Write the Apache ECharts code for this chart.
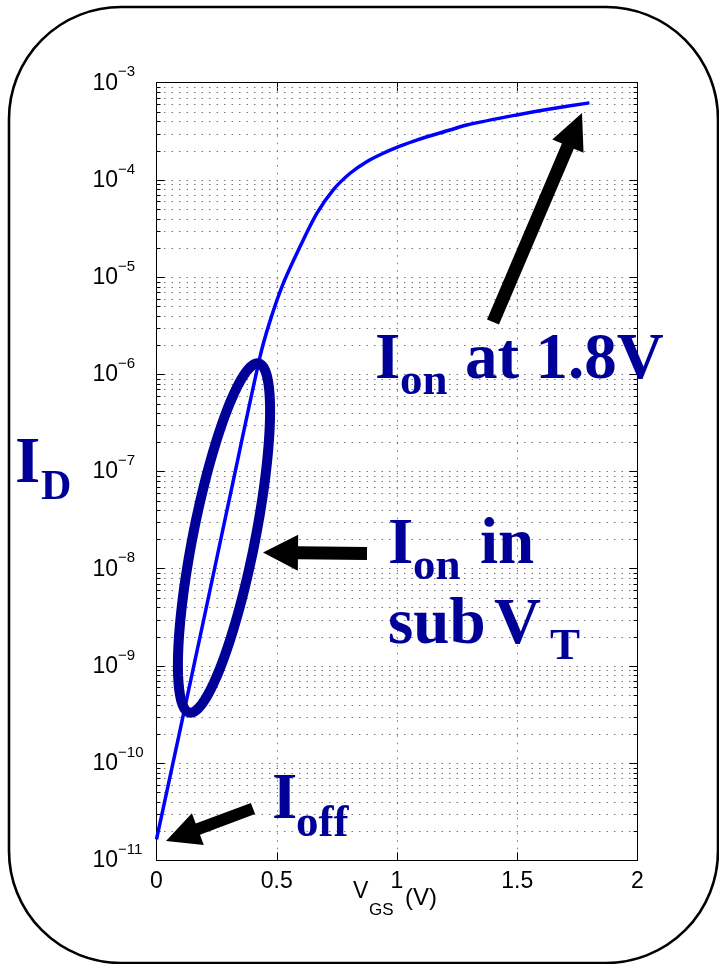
<!DOCTYPE html>
<html>
<head>
<meta charset="utf-8">
<script src="https://cdn.jsdelivr.net/npm/echarts@6/dist/echarts.min.js"></script>
<style>
  html, body { margin: 0; padding: 0; background: #fff; }
  #c { width: 719px; height: 964px; }
</style>
</head>
<body>
<div id="c"></div>
<script>
// Transfer curve: gate-source voltage (V) and drain current (A)
const vgs = [0, 0.10, 0.20, 0.30, 0.43, 0.47, 0.527, 0.597, 0.666, 0.735, 0.805, 0.874, 0.943, 1.012, 1.082, 1.22, 1.29, 1.498, 1.636, 1.80];
const drainCurrent = [1.64e-11, 2.3e-10, 3.3e-9, 4.8e-8, 1.5e-6, 3.4e-6, 8.6e-6, 2.06e-5, 4.5e-5, 7.9e-5, 1.17e-4, 1.54e-4, 1.88e-4, 2.22e-4, 2.57e-4, 3.26e-4, 3.67e-4, 4.66e-4, 5.36e-4, 6.2e-4];

// Axis ticks
const xTickLabels = ['0', '0.5', '1', '1.5', '2'];
const decadeExponents = [-11, -10, -9, -8, -7, -6, -5, -4, -3];
const minorMantissas = [2, 3, 4, 5, 6, 7, 8, 9];

const NAVY = '#000099';
const SERIF = '"Liberation Serif", "Times New Roman", serif';
const SANS = '"Liberation Sans", Arial, Helvetica, sans-serif';

const minorValues = [];
decadeExponents.slice(0, -1).forEach(e => {
  minorMantissas.forEach(m => minorValues.push(m * Math.pow(10, e)));
});

const DOTS = [1.5, 6];
const DOT_COLOR = '#777';

const chart = echarts.init(document.getElementById('c'), null, { renderer: 'canvas', width: 719, height: 964 });

// Text placed on an alphabetic baseline (canvas 'middle' sits ~0.34em above it)
function label(text, x, baseline, size, family, color, weight) {
  const k = family === SERIF ? 0.3375 : 0.3465;
  return {
    type: 'text', z: 120,
    style: {
      text: text, x: x, y: baseline - k * size,
      fontSize: size, fontFamily: family, fontWeight: weight || 'normal',
      fill: color, align: 'left', verticalAlign: 'middle'
    }
  };
}

// Block arrow as a polygon from tail to tip
function arrow(tail, tip, shaftHalf, headLen, headHalf) {
  const dx = tip[0] - tail[0], dy = tip[1] - tail[1];
  const len = Math.hypot(dx, dy);
  const ux = dx / len, uy = dy / len;
  const nx = -uy, ny = ux;
  const bx = tip[0] - ux * headLen, by = tip[1] - uy * headLen;
  const pts = [
    [tail[0] + nx * shaftHalf, tail[1] + ny * shaftHalf],
    [bx + nx * shaftHalf, by + ny * shaftHalf],
    [bx + nx * headHalf, by + ny * headHalf],
    [tip[0], tip[1]],
    [bx - nx * headHalf, by - ny * headHalf],
    [bx - nx * shaftHalf, by - ny * shaftHalf],
    [tail[0] - nx * shaftHalf, tail[1] - ny * shaftHalf]
  ];
  return { type: 'polygon', z: 110, shape: { points: pts }, style: { fill: '#000' } };
}

// Tilted ellipse outline around the subthreshold segment
function ellipse(cx, cy, a, b, ux, uy) {
  const vx = -uy, vy = ux;
  const pts = [];
  for (let i = 0; i < 120; i++) {
    const t = i / 120 * Math.PI * 2;
    pts.push([cx + a * Math.cos(t) * ux + b * Math.sin(t) * vx,
              cy + a * Math.cos(t) * uy + b * Math.sin(t) * vy]);
  }
  return {
    type: 'polygon', z: 105, shape: { points: pts },
    style: { fill: null, stroke: NAVY, lineWidth: 10, lineJoin: 'round' }
  };
}

const ang = Math.hypot(72, 363);

const graphics = [
  {
    type: 'rect', z: 1, shape: { x: 9, y: 7, width: 709, height: 956, r: 112 },
    style: { fill: null, stroke: '#000', lineWidth: 2.6 }
  },
  ellipse(224, 538, 178, 31, 72 / ang, -363 / ang),
  arrow([493, 322], [582, 113], 6.5, 36, 17),
  arrow([367, 553.5], [263, 552.5], 6.5, 35, 18),
  arrow([253, 808.5], [166, 841], 6, 34, 17),

  // I_on at 1.8V
  label('I', 375, 383, 65, SERIF, NAVY, 'bold'),
  label('on', 400, 398, 45, SERIF, NAVY, 'bold'),
  label('at 1.8V', 465, 383, 65, SERIF, NAVY, 'bold'),
  // I_on in sub V_T
  label('I', 388, 568, 65, SERIF, NAVY, 'bold'),
  label('on', 413, 583, 45, SERIF, NAVY, 'bold'),
  label('in', 480, 568, 65, SERIF, NAVY, 'bold'),
  label('sub', 388, 648, 65, SERIF, NAVY, 'bold'),
  label('V', 494, 648, 65, SERIF, NAVY, 'bold'),
  label('T', 550, 663, 45, SERIF, NAVY, 'bold'),
  // I_off
  label('I', 272, 823, 65, SERIF, NAVY, 'bold'),
  label('off', 296, 840, 45, SERIF, NAVY, 'bold'),
  // I_D
  label('I', 15, 487, 65, SERIF, NAVY, 'bold'),
  label('D', 41, 502, 42, SERIF, NAVY, 'bold'),
  // V_GS (V)
  label('V', 353, 900, 23, SANS, '#000'),
  label('GS', 369, 916, 17, SANS, '#000'),
  label('(V)', 405, 907, 24, SANS, '#000')
];

const boxAxisLine = { show: true, onZero: false, lineStyle: { color: '#000', width: 1 } };

chart.setOption({
  animation: false,
  backgroundColor: '#fff',
  grid: { left: 156.5, right: 81.5, top: 82.7, bottom: 103.7, containLabel: false },
  xAxis: [
    {
      type: 'value', min: 0, max: 2, interval: 0.5, position: 'bottom',
      axisLine: boxAxisLine,
      axisTick: { show: true, inside: true, length: 8, lineStyle: { color: '#000' } },
      axisLabel: {
        show: true, margin: 10, fontSize: 23, fontFamily: SANS, color: '#000',
        formatter: (v, i) => xTickLabels[i]
      },
      splitLine: { show: true, lineStyle: { type: DOTS, color: DOT_COLOR, width: 1 } }
    },
    {
      type: 'value', min: 0, max: 2, interval: 0.5, position: 'top',
      axisLine: boxAxisLine,
      axisTick: { show: true, inside: true, length: 8, lineStyle: { color: '#000' } },
      axisLabel: { show: false },
      splitLine: { show: false }
    }
  ],
  yAxis: [
    {
      type: 'log', logBase: 10, min: 1e-11, max: 1e-3, interval: 1, splitNumber: 8, position: 'left',
      axisLine: boxAxisLine,
      axisTick: { show: true, inside: true, length: 8, lineStyle: { color: '#000' } },
      axisLabel: {
        show: true, align: 'left', margin: 64,
        formatter: v => '{b|10}{s|\u2212' + Math.abs(Math.round(Math.log10(v))) + '}',
        rich: {
          b: { fontSize: 23, fontFamily: SANS, color: '#000', verticalAlign: 'bottom', lineHeight: 24 },
          s: { fontSize: 15, fontFamily: SANS, color: '#000', verticalAlign: 'bottom', lineHeight: 16, padding: [0, 0, 15, 0] }
        }
      },
      splitLine: { show: true, lineStyle: { type: DOTS, color: DOT_COLOR, width: 1 } }
    },
    {
      type: 'log', logBase: 10, min: 1e-11, max: 1e-3, interval: 1, splitNumber: 8, position: 'right',
      axisLine: boxAxisLine,
      axisTick: { show: true, inside: true, length: 8, lineStyle: { color: '#000' } },
      axisLabel: { show: false },
      splitLine: { show: false }
    }
  ],
  series: [
    {
      // minor decade lines with their short ticks on both frame sides
      type: 'custom', xAxisIndex: 0, yAxisIndex: 0, z: 1, silent: true,
      data: minorValues.map(v => [0, v]),
      encode: { x: 0, y: 1 },
      renderItem: (params, api) => {
        const cs = params.coordSys;
        const y = Math.round(api.coord([0, api.value(1)])[1]) + 0.5;
        return {
          type: 'group',
          children: [
            { type: 'line', shape: { x1: cs.x, y1: y, x2: cs.x + cs.width, y2: y }, style: { stroke: DOT_COLOR, lineWidth: 1, lineDash: DOTS } },
            { type: 'line', shape: { x1: cs.x, y1: y, x2: cs.x + 4, y2: y }, style: { stroke: '#000', lineWidth: 1 } },
            { type: 'line', shape: { x1: cs.x + cs.width - 4, y1: y, x2: cs.x + cs.width, y2: y }, style: { stroke: '#000', lineWidth: 1 } }
          ]
        };
      }
    },
    {
      type: 'line', xAxisIndex: 0, yAxisIndex: 0, z: 5,
      data: vgs.map((v, i) => [v, drainCurrent[i]]),
      showSymbol: false, smooth: 0.3,
      lineStyle: { color: '#0000ff', width: 3.5 }
    }
  ],
  graphic: graphics
});
</script>
</body>
</html>
